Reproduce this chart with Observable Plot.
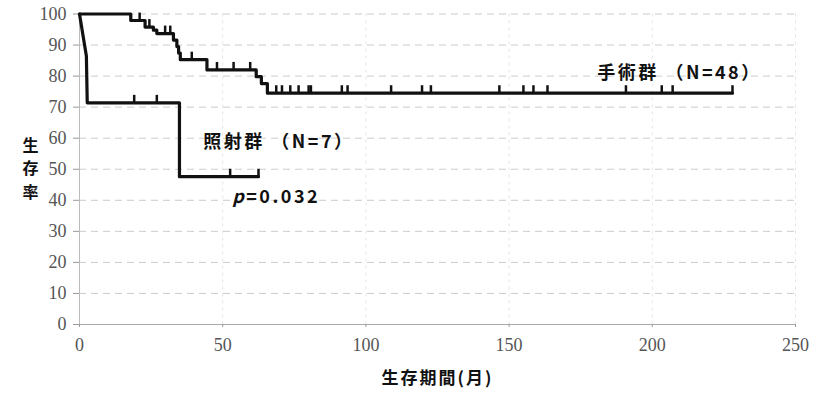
<!DOCTYPE html>
<html>
<head>
<meta charset="utf-8">
<script src="https://cdn.jsdelivr.net/npm/d3@7"></script>
<script src="https://cdn.jsdelivr.net/npm/@observablehq/plot@0.6"></script>
<style>
  html, body { margin: 0; padding: 0; background: #fff; }
  #chart { width: 815px; height: 401px; }
</style>
</head>
<body>
<div id="chart"></div>
<script>
// Ticks
const xTicks = [0, 50, 100, 150, 200, 250];
const yTicks = [0, 10, 20, 30, 40, 50, 60, 70, 80, 90, 100];

// 手術群 (N=48): Kaplan-Meier steps (months, survival %)
const surgTimes  = [0, 17.9, 22.9, 25.8, 27.0, 32.8, 34.0, 34.6, 35.2, 44.5, 61.7, 63.5, 65.6, 228];
const surgValues = [100, 97.9, 95.8, 94.8, 93.7, 91.6, 89.5, 87.4, 85.3, 82.0, 79.8, 77.6, 74.5, 74.5];
// 手術群 censored observations
const surgCensorTimes  = [21.0, 24.4, 29.9, 31.7, 39.2, 48.0, 53.8, 59.6, 68.7, 70.7, 73.6, 76.5, 80.0, 80.8, 91.6, 93.6, 108.8, 119.6, 122.7, 146.6, 155.0, 158.5, 163.4, 190.8, 203.3, 207.1, 228.0];
const surgCensorValues = [97.9, 95.8, 93.7, 93.7, 85.3, 82.0, 82.0, 82.0, 74.5, 74.5, 74.5, 74.5, 74.5, 74.5, 74.5, 74.5, 74.5, 74.5, 74.5, 74.5, 74.5, 74.5, 74.5, 74.5, 74.5, 74.5, 74.5];

// 照射群 (N=7)
const radTimes  = [0, 2.4, 2.7, 34.9, 34.9, 62.5];
const radValues = [100, 86.5, 71.4, 71.4, 47.6, 47.6];
const radCensorTimes  = [19.1, 27.0, 52.6, 62.5];
const radCensorValues = [71.4, 71.4, 47.6, 47.6];

// Annotations
const labelTexts = ["手術群 （N=48）", "照射群 （N=7）", "p=0.032"];
const labelX = [180.8, 43.2, 53.3];
const labelY = [80.8, 58.7, 41.0];
const yTitleChars = ["生", "存", "率"];
const xTitle = "生存期間(月)";

const surg = surgTimes.map((t, i) => ({t, s: surgValues[i]}));
const rad = radTimes.map((t, i) => ({t, s: radValues[i]}));
const surgC = surgCensorTimes.map((t, i) => ({t, s: surgCensorValues[i]}));
const radC = radCensorTimes.map((t, i) => ({t, s: radCensorValues[i]}));
const labels = labelTexts.map((text, i) => ({text, x: labelX[i], y: labelY[i]}));

const cjk = "'Noto Sans CJK JP', 'Noto Sans', sans-serif";
const tickH = 2.4;

const chart = Plot.plot({
  width: 815,
  height: 401,
  marginLeft: 79,
  marginRight: 20,
  marginTop: 13.5,
  marginBottom: 77,
  x: {domain: [0, 250]},
  y: {domain: [0, 100]},
  style: {fontFamily: "'Liberation Serif', serif", fontSize: "18px", color: "#555", background: "#fff"},
  marks: [
    Plot.gridY(yTicks.slice(1), {stroke: "#999", strokeOpacity: 0.5, strokeDasharray: "7,5"}),
    Plot.gridX(xTicks.slice(1), {stroke: "#aaa", strokeOpacity: 0.3, strokeDasharray: "3,4"}),
    Plot.ruleY([0], {stroke: "#aaa"}),
    Plot.ruleX([0], {stroke: "#bbb"}),
    Plot.axisX(xTicks, {tickSize: 3, tickPadding: 11, label: null, stroke: "#999"}),
    Plot.axisY(yTicks, {tickSize: 6, tickPadding: 7, label: null, stroke: "#999"}),
    Plot.line(surg, {x: "t", y: "s", curve: "step-after", stroke: "#111", strokeWidth: 3.2}),
    Plot.ruleX(surgC, {x: "t", y1: "s", y2: d => d.s + tickH, stroke: "#111", strokeWidth: 2.5}),
    Plot.line(rad, {x: "t", y: "s", stroke: "#111", strokeWidth: 3.2}),
    Plot.ruleX(radC, {x: "t", y1: "s", y2: d => d.s + tickH, stroke: "#111", strokeWidth: 2.5}),
    Plot.text(labels, {x: "x", y: "y", text: "text", textAnchor: "start", fontFamily: cjk, fontWeight: "bold", fontSize: 18, fill: "#111"}),
    Plot.text([yTitleChars[0]], {frameAnchor: "left", dx: -57, dy: -23.5, fontFamily: cjk, fontWeight: "bold", fontSize: 16, fill: "#111"}),
    Plot.text([yTitleChars[1]], {frameAnchor: "left", dx: -57, dy: 0, fontFamily: cjk, fontWeight: "bold", fontSize: 16, fill: "#111"}),
    Plot.text([yTitleChars[2]], {frameAnchor: "left", dx: -57, dy: 23.5, fontFamily: cjk, fontWeight: "bold", fontSize: 16, fill: "#111"}),
    Plot.text([xTitle], {frameAnchor: "bottom", dy: 59, fontFamily: cjk, fontWeight: "bold", fontSize: 17, fill: "#111"})
  ]
});

// Letter spacing and italic p for annotations
d3.select(chart).selectAll("text").each(function() {
  const el = d3.select(this);
  const t = this.textContent;
  if (t === "p=0.032") {
    el.text(null).style("letter-spacing", "2.5px");
    el.append("tspan").attr("font-style", "italic").text("p");
    el.append("tspan").text("=0.032");
  } else if (labelTexts.includes(t)) {
    el.style("letter-spacing", "2.5px");
  } else if (t === xTitle) {
    el.style("letter-spacing", "2px");
  }
});

document.getElementById("chart").appendChild(chart);
</script>
</body>
</html>
